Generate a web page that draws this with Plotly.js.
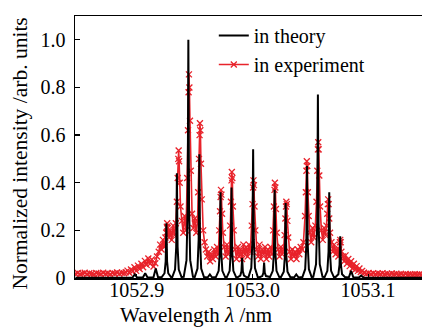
<!DOCTYPE html>
<html>
<head>
<meta charset="utf-8">
<script src="https://cdn.plot.ly/plotly-3.0.1.min.js"></script>
<style>
html,body{margin:0;padding:0;background:#fff;}
</style>
</head>
<body>
<div id="chart"></div>
<script>
// Tick labels
const xTickVals = [1052.9, 1053.0, 1053.1];
const xTickText = ['1052.9', '1053.0', '1053.1'];
const yTickVals = [0, 0.2, 0.4, 0.6, 0.8, 1.0];
const yTickText = ['0', '0.2', '0.4', '0.6', '0.8', '1.0'];
const seriesNames = ['in theory', 'in experiment'];

// Theory spectrum (wavelength nm, normalized intensity)
const thWl = [
 1052.8470,
 1052.8963,1052.8983,1052.9003,
 1052.9053,1052.9073,1052.9093,
 1052.9144,1052.9164,1052.9184,
 1052.9216,1052.9240,1052.9250,1052.9256,1052.9262,1052.9272,1052.9296,
 1052.9307,1052.9331,1052.9341,1052.9347,1052.9353,1052.9363,1052.9387,
 1052.9406,1052.9430,1052.9440,1052.9446,1052.9452,1052.9462,1052.9486,
 1052.9501,1052.9525,1052.9535,1052.9541,1052.9547,1052.9557,1052.9581,
 1052.9612,1052.9632,1052.9652,
 1052.9684,1052.9708,1052.9718,1052.9724,1052.9730,1052.9740,1052.9764,
 1052.9779,1052.9803,1052.9813,1052.9819,1052.9825,1052.9835,1052.9859,
 1052.9871,1052.9895,1052.9905,1052.9911,1052.9917,1052.9927,1052.9951,
 1052.9966,1052.9990,1053.0000,1053.0006,1053.0012,1053.0022,1053.0046,
 1053.0061,1053.0085,1053.0095,1053.0101,1053.0107,1053.0117,1053.0141,
 1053.0152,1053.0176,1053.0186,1053.0192,1053.0198,1053.0208,1053.0232,
 1053.0247,1053.0271,1053.0281,1053.0287,1053.0293,1053.0303,1053.0327,
 1053.0359,1053.0379,1053.0399,
 1053.0432,1053.0456,1053.0466,1053.0472,1053.0478,1053.0488,1053.0512,
 1053.0526,1053.0550,1053.0560,1053.0566,1053.0572,1053.0582,1053.0606,
 1053.0624,1053.0648,1053.0658,1053.0664,1053.0670,1053.0680,1053.0704,
 1053.0719,1053.0743,1053.0753,1053.0759,1053.0765,1053.0775,1053.0799,
 1053.0833,1053.0853,1053.0873,
 1053.0920,1053.0940,1053.0960,
 1053.1470
];
const thInt = [
 0.001,
 0.002,0.015,0.002,
 0.002,0.020,0.002,
 0.002,0.040,0.003,
 0.004,0.020,0.070,0.230,0.070,0.020,0.004,
 0.004,0.035,0.130,0.440,0.130,0.035,0.004,
 0.005,0.075,0.300,1.000,0.300,0.075,0.005,
 0.004,0.040,0.160,0.520,0.160,0.040,0.004,
 0.002,0.015,0.002,
 0.004,0.030,0.110,0.360,0.110,0.030,0.004,
 0.004,0.030,0.115,0.380,0.115,0.030,0.004,
 0.003,0.010,0.028,0.085,0.028,0.010,0.003,
 0.004,0.042,0.160,0.540,0.160,0.042,0.004,
 0.003,0.008,0.022,0.065,0.022,0.008,0.003,
 0.004,0.030,0.110,0.370,0.110,0.030,0.004,
 0.004,0.026,0.095,0.315,0.095,0.026,0.004,
 0.002,0.015,0.002,
 0.004,0.037,0.140,0.470,0.140,0.037,0.004,
 0.005,0.058,0.230,0.770,0.230,0.058,0.005,
 0.004,0.030,0.110,0.360,0.110,0.030,0.004,
 0.004,0.016,0.055,0.175,0.055,0.016,0.004,
 0.002,0.030,0.002,
 0.002,0.010,0.002,
 0.001
];

// Experimental spectrum (wavelength nm, normalized intensity)
const expWl = [
 1052.847,1052.849,1052.851,1052.853,1052.855,1052.857,1052.859,1052.861,1052.863,1052.865,1052.867,1052.869,1052.871,1052.873,1052.875,1052.877,1052.879,1052.881,1052.883,1052.885,1052.887,1052.889,
 1052.8905,1052.8920,1052.8935,1052.8950,1052.8965,1052.8980,1052.8995,1052.9010,1052.9025,1052.9040,1052.9055,1052.9070,1052.9085,1052.9100,1052.9115,1052.9130,1052.9145,1052.9160,1052.9175,
 1052.9190,1052.9202,1052.9214,1052.9226,1052.9238,
 1052.9248,1052.9255,1052.9260,1052.9263,1052.9267,1052.9272,1052.9279,
 1052.9290,1052.9302,1052.9314,1052.9326,1052.9338,
 1052.9347,1052.9354,1052.9359,1052.9362,1052.9366,1052.9371,1052.9378,
 1052.9390,1052.9402,1052.9414,1052.9426,
 1052.9436,1052.9443,1052.9448,1052.9451,1052.9455,1052.9460,1052.9467,
 1052.9478,1052.9490,1052.9502,1052.9514,1052.9526,
 1052.9531,1052.9538,1052.9543,1052.9546,1052.9550,1052.9555,1052.9562,
 1052.9574,1052.9586,1052.9598,1052.9610,1052.9622,1052.9634,1052.9646,1052.9658,1052.9670,1052.9682,1052.9694,1052.9706,
 1052.9713,1052.9720,1052.9725,1052.9728,1052.9732,1052.9737,1052.9744,
 1052.9756,1052.9768,1052.9780,1052.9792,1052.9804,
 1052.9807,1052.9814,1052.9819,1052.9822,1052.9826,1052.9831,1052.9838,
 1052.9850,1052.9862,1052.9874,1052.9886,1052.9898,1052.9910,1052.9922,1052.9934,1052.9946,1052.9958,1052.9970,1052.9982,
 1052.9994,1053.0001,1053.0006,1053.0009,1053.0013,1053.0018,1053.0025,
 1053.0037,1053.0049,1053.0061,1053.0073,1053.0085,1053.0097,1053.0109,1053.0121,1053.0133,1053.0145,1053.0157,1053.0169,
 1053.0179,1053.0186,1053.0191,1053.0194,1053.0198,1053.0203,1053.0210,
 1053.0222,1053.0234,1053.0246,1053.0258,1053.0270,
 1053.0278,1053.0285,1053.0290,1053.0293,1053.0297,1053.0302,1053.0309,
 1053.0321,1053.0333,1053.0345,1053.0357,1053.0369,1053.0381,1053.0393,1053.0405,1053.0417,1053.0429,1053.0441,
 1053.0455,1053.0462,1053.0467,1053.0470,1053.0474,1053.0479,1053.0486,
 1053.0496,1053.0508,1053.0520,1053.0532,1053.0544,
 1053.0554,1053.0561,1053.0566,1053.0569,1053.0573,1053.0578,1053.0585,
 1053.0596,1053.0608,1053.0620,1053.0632,
 1053.0640,1053.0647,1053.0652,1053.0655,1053.0659,1053.0664,1053.0671,
 1053.0683,1053.0695,1053.0707,1053.0719,1053.0731,1053.0743,
 1053.0750,1053.0756,1053.0759,1053.0763,1053.0769,
 1053.0781,1053.0793,1053.0805,1053.0817,1053.0829,1053.0841,1053.0853,1053.0865,1053.0877,1053.0889,1053.0901,1053.0913,1053.0925,1053.0937,1053.0949,
 1053.0965,1053.0985,1053.1005,1053.1025,1053.1045,1053.1065,1053.1085,1053.1105,1053.1125,1053.1145,1053.1165,1053.1185,1053.1205,1053.1225,1053.1245,1053.1265,1053.1285,1053.1305,1053.1325,1053.1345,1053.1365,1053.1385,1053.1405,1053.1425,1053.1445,1053.1465
];
const expInt = [
 0.018,0.021,0.016,0.019,0.022,0.017,0.020,0.018,0.015,0.021,0.019,0.017,0.022,0.018,0.020,0.016,0.021,0.019,0.023,0.018,0.022,0.020,
 0.024,0.031,0.022,0.036,0.028,0.045,0.030,0.052,0.038,0.060,0.045,0.072,0.055,0.082,0.060,0.078,0.048,0.062,0.090,
 0.110,0.140,0.120,0.160,0.130,
 0.170,0.190,0.215,0.230,0.210,0.190,0.170,
 0.200,0.160,0.220,0.180,0.230,
 0.320,0.420,0.500,0.535,0.490,0.400,0.300,
 0.240,0.190,0.260,0.200,
 0.420,0.620,0.780,0.855,0.800,0.660,0.450,
 0.270,0.210,0.250,0.190,0.240,
 0.360,0.500,0.600,0.650,0.620,0.480,0.330,
 0.200,0.150,0.120,0.090,0.110,0.070,0.100,0.080,0.120,0.090,0.130,0.100,
 0.200,0.280,0.340,0.370,0.350,0.270,0.190,
 0.130,0.090,0.140,0.100,0.120,
 0.220,0.320,0.410,0.445,0.420,0.300,0.200,
 0.120,0.080,0.130,0.090,0.120,0.080,0.140,0.100,0.130,0.090,0.140,0.110,
 0.220,0.310,0.380,0.410,0.390,0.300,0.200,
 0.120,0.090,0.140,0.080,0.120,0.100,0.130,0.080,0.120,0.090,0.130,0.100,
 0.200,0.300,0.370,0.400,0.380,0.290,0.190,
 0.120,0.090,0.130,0.100,0.120,
 0.180,0.250,0.300,0.320,0.310,0.240,0.170,
 0.110,0.080,0.120,0.090,0.110,0.080,0.120,0.100,0.130,0.120,0.150,
 0.260,0.360,0.450,0.490,0.470,0.360,0.260,
 0.190,0.150,0.210,0.170,0.220,
 0.320,0.450,0.540,0.570,0.540,0.430,0.300,
 0.200,0.160,0.210,0.180,
 0.220,0.270,0.310,0.330,0.310,0.250,0.190,
 0.150,0.110,0.140,0.100,0.120,0.090,
 0.120,0.150,0.160,0.150,0.110,
 0.090,0.070,0.095,0.060,0.080,0.050,0.070,0.040,0.060,0.035,0.050,0.030,0.040,0.025,0.030,
 0.022,0.018,0.021,0.017,0.020,0.016,0.019,0.017,0.020,0.016,0.018,0.015,0.019,0.016,0.018,0.015,0.017,0.014,0.017,0.015,0.016,0.014,0.016,0.015,0.016,0.014
];
if (expWl.length !== expInt.length) console.error('exp length mismatch', expWl.length, expInt.length);
if (thWl.length !== thInt.length) console.error('theory length mismatch', thWl.length, thInt.length);

const FONT = 'Liberation Serif';
const RED = '#e8232b';

const traces = [
  {
    x: expWl, y: expInt, type: 'scatter', mode: 'lines+markers', name: seriesNames[1],
    line: {color: RED, width: 1.6},
    marker: {symbol: 'x-thin', size: 6, color: RED, line: {color: RED, width: 1.3}},
    legendrank: 2
  },
  {
    x: thWl, y: thInt, type: 'scatter', mode: 'lines', name: seriesNames[0],
    line: {color: '#000000', width: 2},
    legendrank: 1
  }
];

const layout = {
  width: 422, height: 330,
  margin: {l: 75, r: 0, t: 16, b: 52},
  paper_bgcolor: '#ffffff', plot_bgcolor: '#ffffff',
  showlegend: true,
  legend: {x: 0.40, y: 1.0, xanchor: 'left', yanchor: 'top', bgcolor: 'rgba(0,0,0,0)',
           font: {family: FONT, size: 20, color: '#000'}, tracegroupgap: 0},
  xaxis: {
    range: [1052.8466, 1053.1466], tickvals: xTickVals, ticktext: xTickText,
    ticks: 'inside', ticklen: 4, tickwidth: 1.2, tickcolor: '#000',
    showline: true, linecolor: '#000', linewidth: 1.5, mirror: true,
    showgrid: false, zeroline: false, ticklabelstandoff: -7,
    tickfont: {family: FONT, size: 20, color: '#000'}
  },
  yaxis: {
    range: [0, 1.1], tickvals: yTickVals, ticktext: yTickText,
    ticks: 'inside', ticklen: 5, tickwidth: 1.2, tickcolor: '#000',
    showline: true, linecolor: '#000', linewidth: 1.5, mirror: false,
    showgrid: false, zeroline: false, ticklabelstandoff: 4,
    tickfont: {family: FONT, size: 20, color: '#000'}
  },
  annotations: [
    {text: 'Wavelength <i>λ</i> /nm', xref: 'paper', yref: 'paper', x: 0.35, y: -0.14,
     xanchor: 'center', yanchor: 'middle', showarrow: false, font: {family: FONT, size: 21, color: '#000'}},
    {text: 'Normalized intensity /arb. units', xref: 'paper', yref: 'paper', x: -0.1585, y: 0.475,
     xanchor: 'center', yanchor: 'middle', textangle: -90, showarrow: false, font: {family: FONT, size: 21.5, color: '#000'}}
  ]
};

Plotly.newPlot('chart', traces, layout, {displayModeBar: false, staticPlot: true});
</script>
</body>
</html>
